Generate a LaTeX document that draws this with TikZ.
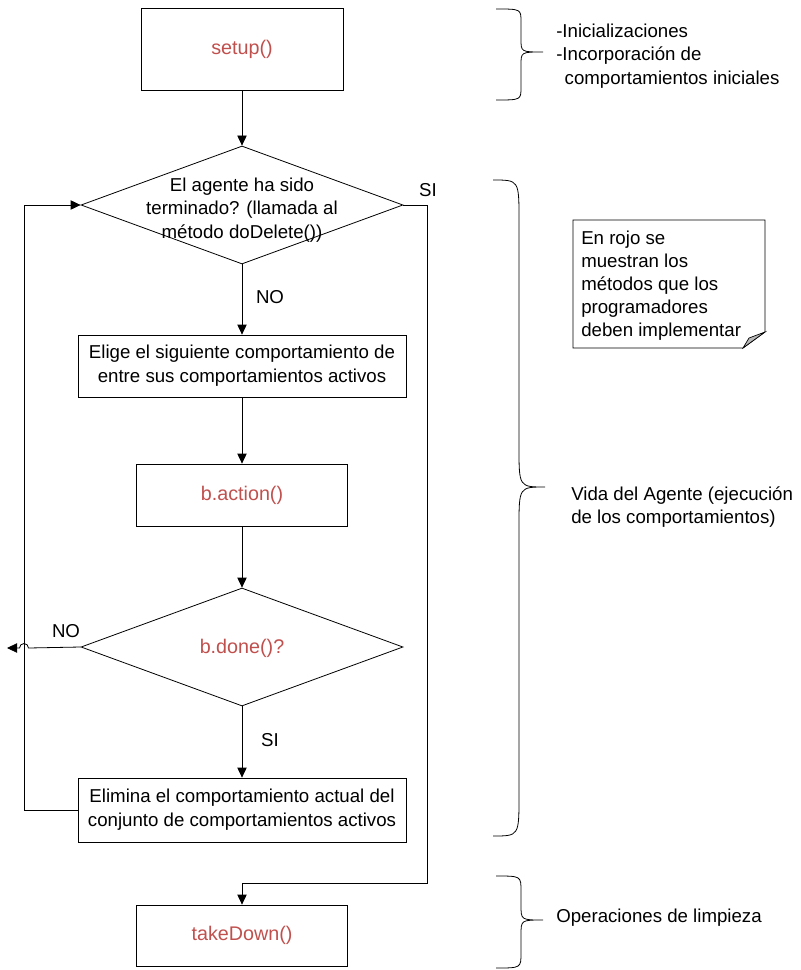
\documentclass[tikz,border=0pt]{standalone}
\usepackage{fontspec}
\setmainfont{Liberation Sans}
\usetikzlibrary{arrows.meta,shapes.geometric}
\definecolor{methodred}{HTML}{C0504D}

% curly brace: #1 end x, #2 spine x, #3 tip x, #4 top y, #5 tip y, #6 bottom y, #7 bend
\newcommand\curlybrace[7]{%
  \draw[bracestyle] (#1,#4) .. controls (#2,#4) .. (#2,{#4+#7})
    -- (#2,{#5-#7}) .. controls (#2,#5) .. (#3,#5)
    .. controls (#2,#5) .. (#2,{#5+#7})
    -- (#2,{#6-#7}) .. controls (#2,#6) .. (#1,#6);}

\tikzset{
  txt/.style={font=\fontsize{14}{17.8}\selectfont, inner sep=0pt},
  procbox/.style={txt, draw, rectangle, line width=0.6pt, align=center},
  decision/.style={draw, diamond, inner sep=0pt, line width=0.6pt,
    minimum width=241.5pt, minimum height=88.5pt},
  flow/.style={line width=0.6pt, -{Triangle[length=7.5pt,width=7pt]}},
  plain/.style={line width=0.6pt},
  bracestyle/.style={line width=0.6pt},
  side/.style={txt, align=left, anchor=west},
  method/.style={font=\fontsize{14.8}{17.8}\selectfont, text=methodred}
}

\begin{document}
\begin{tikzpicture}[x=0.75pt,y=-0.75pt]
\useasboundingbox (0,0) rectangle (800,970);

% flow chart nodes
\node[procbox, method, minimum width=151.5pt, minimum height=61.5pt] (setup) at (242,49)
  {setup()};
\node[decision] (d1) at (242,205) {};
\node[txt, align=center] (d1t) at (242,210)
  {El agente ha sido\\terminado? (llamada al\\método doDelete())};
\node[procbox, minimum width=246pt, minimum height=46.5pt] (choose) at (242,366)
  {Elige el siguiente comportamiento de\\entre sus comportamientos activos};
\node[procbox, method, minimum width=158.25pt, minimum height=46.5pt] (action) at (242,495)
  {b.action()};
\node[decision] (d2) at (242,647) {};
\node[txt, method] (d2t) at (242,648) {b.done()?};
\node[procbox, minimum width=246pt, minimum height=48pt] (remove) at (242,810)
  {Elimina el comportamiento actual del\\conjunto de comportamientos activos};
\node[procbox, method, minimum width=158.25pt, minimum height=45.75pt] (takedown) at (242,935.5)
  {takeDown()};

% branch labels
\node[txt] (si1) at (428,190) {SI};
\node[txt] (no1) at (270,297) {NO};
\node[txt] (no2) at (66,631) {NO};
\node[txt] (si2) at (270,740) {SI};

% main sequence
\draw[flow] (setup.south) -- (d1.north);
\draw[flow] (d1.south) -- (choose.north);
\draw[flow] (choose.south) -- (action.north);
\draw[flow] (action.south) -- (d2.north);
\draw[flow] (d2.south) -- (remove.north);

% return loop to the termination test
\coordinate (loopbot) at (24,810);
\coordinate (looptop) at (24,205);
\draw[flow] (remove.west) -- (loopbot) -- (looptop) -- (d1.west);

% exit when the agent is terminated
\coordinate (siA) at (427,205);
\coordinate (siB) at (427,883);
\coordinate (siC) at (242,883);
\draw[flow] (d1.east) -- (siA) -- (siB) -- (siC) -- (takedown.north);

% "not done" branch, hopping over the loop line
\coordinate (hopR) at (28.5,648);
\coordinate (noexit) at (7,648);
\draw[flow] (d2.west) -- (hopR) arc[start angle=0, end angle=-180, radius=4.5] -- (noexit);

% braces and their descriptions
\curlybrace{496}{521}{543}{9}{52}{100}{13}
\node[side] (initdesc) at (556,56)
  {-Inicializaciones\\-Incorporación de\\\hspace{0.45em}comportamientos iniciales};

\curlybrace{493}{519}{545}{180}{487}{836}{40}
\node[side] (lifedesc) at (571,507)
  {Vida del Agente (ejecución\\de los comportamientos)};

\curlybrace{496}{521}{543}{876}{920}{968}{15}
\node[side] (cleandesc) at (556,918) {Operaciones de limpieza};

% note with curled corner
\draw[plain, fill=white] (573,220) -- (765,220) -- (765,332) -- (743,348) -- (573,348) -- cycle;
\filldraw[line width=0.5pt, fill=black!28] (743,348) -- (749,338) -- (765,332) -- cycle;
\node[side, font=\fontsize{14}{17.25}\selectfont] (note) at (581,286)
  {En rojo se\\muestran los\\métodos que los\\programadores\\deben implementar};

\end{tikzpicture}
\end{document}
